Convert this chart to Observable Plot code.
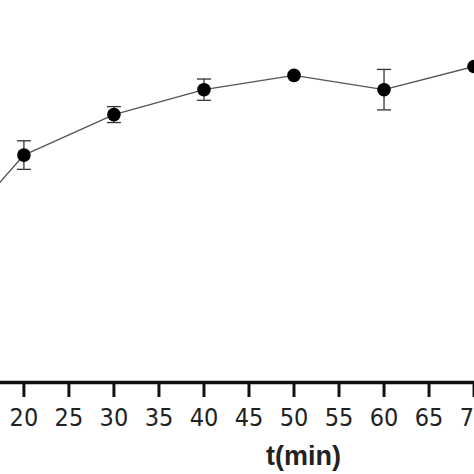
<!DOCTYPE html>
<html>
<head>
<meta charset="utf-8">
<script src="https://cdn.jsdelivr.net/npm/d3@7"></script>
<script src="https://cdn.jsdelivr.net/npm/@observablehq/plot@0.6"></script>
<style>
  html, body { margin: 0; padding: 0; background: #fff; overflow: hidden; }
  #chart { width: 474px; height: 474px; }
</style>
</head>
<body>
<div id="chart"></div>
<script>
// Data (y in arbitrary units; the y axis is cropped out)
const times  = [10, 20, 30, 40, 50, 60, 70];
const values = [37.7, 68.5, 80.7, 88.2, 92.5, 88.2, 95.2];
const errors = [3.0, 4.3, 2.4, 3.2, 0, 6.1, 0];
const tickValues = [20, 25, 30, 35, 40, 45, 50, 55, 60, 65, 70];
const xLabel = "t(min)";

const data = times.map((t, i) => ({t, v: values[i], e: errors[i], lo: values[i] - errors[i], hi: values[i] + errors[i]}));
const withErr = data.filter(d => d.e > 0);

const cap = {
  draw(context, size) {
    const r = Math.sqrt(size / Math.PI);
    context.moveTo(-r, 0);
    context.lineTo(r, 0);
  }
};

const chart = Plot.plot({
  width: 474,
  height: 474,
  marginLeft: 0,
  marginRight: 0,
  marginTop: 50,
  marginBottom: 92,
  style: {fontFamily: "'Liberation Sans Narrow', 'DejaVu Sans Condensed', 'Liberation Sans', Arial, sans-serif", background: "white", color: "#222"},
  x: {domain: [17.4, 70.05]},
  y: {domain: [0, 100], axis: null},
  marks: [
    Plot.line(data, {x: "t", y: "v", stroke: "#555", strokeWidth: 1.4}),
    Plot.ruleX(withErr, {x: "t", y1: "lo", y2: "hi", stroke: "#333", strokeWidth: 1.3}),
    Plot.dot(withErr, {x: "t", y: "lo", symbol: cap, r: 7, stroke: "#333", strokeWidth: 1.3}),
    Plot.dot(withErr, {x: "t", y: "hi", symbol: cap, r: 7, stroke: "#333", strokeWidth: 1.3}),
    Plot.dot(data, {x: "t", y: "v", r: 6.8, fill: "#000", stroke: "none"}),
    Plot.ruleY([0], {stroke: "#111", strokeWidth: 3.5}),
    Plot.axisX({ticks: tickValues, tickSize: 15, tickPadding: 11, strokeWidth: 3, stroke: "#111", fontSize: 25, tickFormat: d => String(d), label: null, fill: "#222"}),
    Plot.text([xLabel], {frameAnchor: "bottom", dx: 66, dy: 82, fontSize: 27, fontWeight: "bold", fill: "#222", fontFamily: "'Liberation Sans', Arial, sans-serif"})
  ]
});
document.getElementById("chart").appendChild(chart);
</script>
</body>
</html>
